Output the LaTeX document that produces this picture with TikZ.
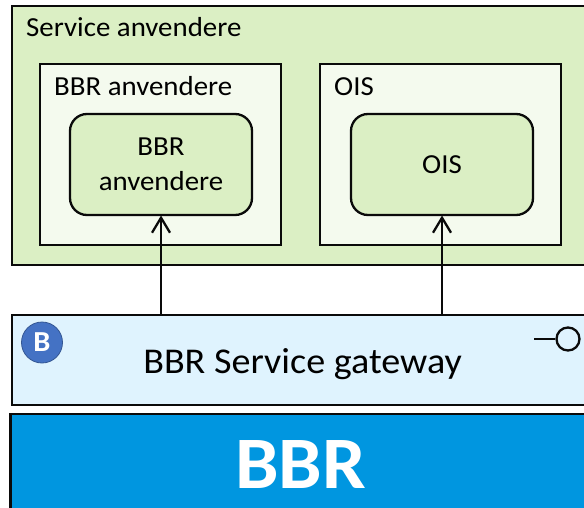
\documentclass[tikz,border=0pt]{standalone}
\usepackage{fontspec}
\setmainfont[FakeStretch=1.05]{Carlito}
\usetikzlibrary{arrows.meta,calc}
\definecolor{grn}{HTML}{DBEFC4}
\definecolor{pale}{HTML}{F4FAEE}
\definecolor{sky}{HTML}{DFF3FE}
\definecolor{bbrblue}{HTML}{0096E0}
\definecolor{badge}{HTML}{4472C4}
\definecolor{ink}{HTML}{0A0A0A}
\tikzset{
  x=1pt,y=-1pt,
  box/.style={draw=ink,line width=2.3pt,rectangle,inner sep=0pt,outer sep=0pt,anchor=north west},
  app/.style={box,fill=grn,rounded corners=17pt,font=\fontsize{27.5}{35}\selectfont,align=center,anchor=center},
  lab/.style={inner sep=0pt,anchor=base west,font=\fontsize{27.5}{33}\selectfont,text=black},
  link/.style={draw=ink,line width=2.3pt,-{Straight Barb[length=15pt,width=18pt,line width=2.3pt]},shorten >=0.5pt}
}
\begin{document}
\begin{tikzpicture}
\useasboundingbox (0,0) rectangle (584,508);
\clip (0,0) rectangle (584,508);
\fill[white] (0,0) rectangle (584,508);
\node[box,fill=grn,minimum width=600pt,minimum height=259pt] (svc) at (12,6) {};
\node[box,fill=pale,minimum width=241pt,minimum height=181pt] (bbrouter) at (40,64) {};
\node[box,fill=pale,minimum width=241pt,minimum height=181pt] (oisouter) at (320,64) {};
\node[app,minimum width=182pt,minimum height=101pt] (bbrapp) at (161,164.5) {BBR\\anvendere};
\node[app,minimum width=182pt,minimum height=101pt] (oisapp) at (442,164.5) {OIS};
\node[box,fill=sky,minimum width=600pt,minimum height=90pt] (gw) at (12,315) {};
\node[box,fill=bbrblue,minimum width=600pt,minimum height=120pt] (core) at (10.5,414) {};
\node[lab] (t1) at (26,37) {Service anvendere};
\node[lab] (t2) at (54,96) {BBR anvendere};
\node[lab] (t3) at (334,96) {OIS};
\node[inner sep=0pt,anchor=base,font=\fontsize{36.3}{40}\selectfont] (t4) at (302.5,373) {BBR Service gateway};
\node[inner sep=0pt,anchor=base,font=\fontsize{74}{80}\selectfont\bfseries,text=white] (t5) at (300.5,488) {BBR};
\node[circle,fill=badge,draw=badge!75!black,line width=0.8pt,minimum size=41pt,inner sep=0pt,text=white,font=\fontsize{29}{30}\selectfont\bfseries] (b) at (42,342.5) {B};
\node[circle,draw=ink,line width=2.3pt,fill=none,minimum size=23pt,inner sep=0pt] (lolli) at (568,339) {};
\coordinate (stub) at (534,339);
\draw[draw=ink,line width=2.3pt] (stub) -- (lolli.west);
\draw[link] (gw.north -| bbrapp.south) -- (bbrapp.south);
\draw[link] (gw.north -| oisapp.south) -- (oisapp.south);
\end{tikzpicture}
\end{document}
